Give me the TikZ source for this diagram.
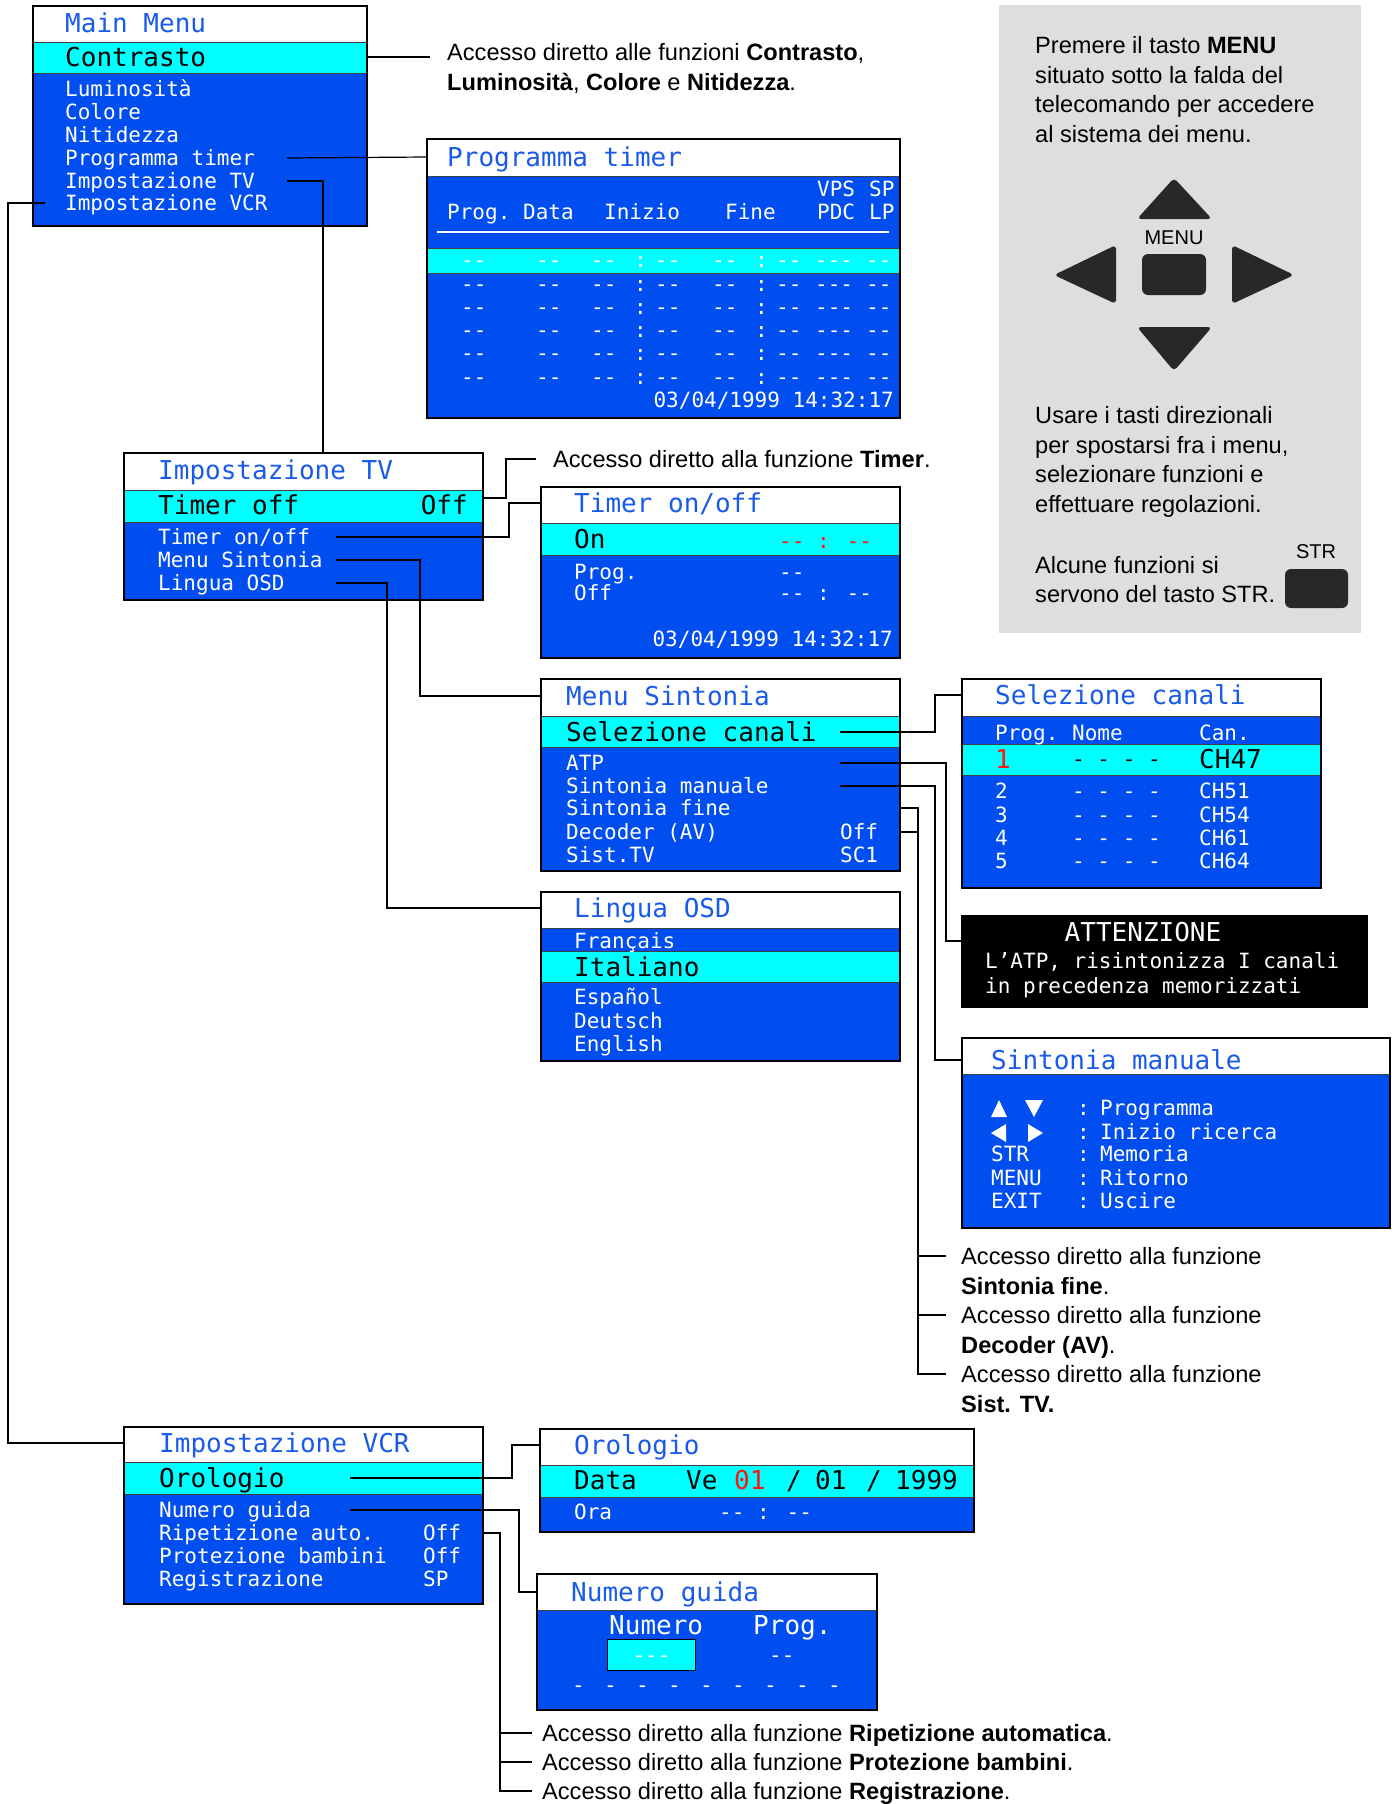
\documentclass[tikz,border=0pt]{standalone}
\usepackage{fontspec}
\setmainfont{Liberation Sans}
\newfontfamily\osdfont[Ligatures=TeXOff]{DejaVu Sans Mono}
\definecolor{osdblue}{RGB}{0,78,240}
\definecolor{osdcyan}{RGB}{0,255,255}
\definecolor{titleblue}{RGB}{25,90,235}
\definecolor{osdred}{RGB}{255,20,20}
\definecolor{panelgray}{RGB}{222,222,222}
\definecolor{keydark}{RGB}{40,40,40}

\tikzset{
  screen/.style={anchor=north west, fill=osdblue, inner sep=0pt, outer sep=0pt},
  frame/.style={line width=1.6pt},
  sep/.style={line width=1pt, black!75},
  link/.style={line width=1.2pt},
  osd/.style={font=\osdfont\fontsize{21}{21}\selectfont, text=white, anchor=west,
    inner sep=0pt, text height=15.3pt, text depth=0pt},
  osdbig/.style={osd, font=\osdfont\fontsize{26}{26}\selectfont, text height=19pt},
  osdsel/.style={osdbig, text=black},
  osdtitle/.style={osdbig, text=titleblue},
  note/.style={font=\fontsize{23.6}{28}\selectfont, anchor=west, inner sep=0pt,
    text height=16.9pt, text depth=0pt},
  keylabel/.style={font=\fontsize{20}{20}\selectfont, inner sep=0pt,
    text height=14.3pt, text depth=0pt},
  key/.style={fill=keydark, rounded corners=4pt}
}

% blue screen with white title bar
\newcommand\osdbox[6]{%
  \node[screen, minimum width=#4pt, minimum height=#5pt] (#1) at (#2,#3) {};
  \fill[white] (#1.north west) rectangle ++(#4,#6);
  \draw[sep] (#1.north west) ++(0,#6) -- ++(#4,0);
}
% highlighted line of a screen
\newcommand\osdband[3]{%
  \fill[osdcyan] (#1.west |- 0,#2) rectangle (#1.east |- 0,#3);
  \draw[sep] (#1.west |- 0,#2) -- (#1.east |- 0,#2) (#1.west |- 0,#3) -- (#1.east |- 0,#3);
}
\newcommand\osdframe[1]{\draw[frame] (#1.north west) rectangle (#1.south east);}

\begin{document}
\begin{tikzpicture}[x=1pt, y=-1pt]
  \useasboundingbox (0,0) rectangle (1396,1804);

  % Main Menu
  \osdbox{mm}{33}{6}{334}{220}{36}
  \osdband{mm}{42}{73}
  \node[osdtitle] (mm-t) at (65,23) {Main Menu};
  \node[osdsel] (mm-con) at (65,57) {Contrasto};
  \node[osd] (mm-lum) at (65,89) {Luminosità};
  \node[osd] (mm-col) at (65,112) {Colore};
  \node[osd] (mm-nit) at (65,135) {Nitidezza};
  \node[osd] (mm-prog) at (65,158) {Programma timer};
  \node[osd] (mm-tv) at (65,181) {Impostazione TV};
  \node[osd] (mm-vcr) at (65,203) {Impostazione VCR};
  \osdframe{mm}

  \node[note] (n-con1) at (447,52) {Accesso diretto alle funzioni \textbf{Contrasto},};
  \node[note] (n-con2) at (447,82) {\textbf{Luminosità}, \textbf{Colore} e \textbf{Nitidezza}.};

  % Programma timer
  \osdbox{pt}{427}{139}{473}{279}{37}
  \osdband{pt}{248}{273}
  \node[osdtitle] (pt-t) at (447,157) {Programma timer};
  \node[osd] (pt-vps) at (817,189) {VPS};
  \node[osd] (pt-sp) at (869,189) {SP};
  \foreach \x/\s in {447/Prog., 523/Data, 604/Inizio, 725/Fine, 817/PDC, 869/LP}
    \node[osd] (pt-h\x) at (\x,212) {\s};
  \draw[white, line width=2pt] (437,232) -- (889,232);
  \foreach \y in {260,284,307,330,353,377}
    \foreach \x/\s in {461/--,536/--,591/--,634/:,655/--,712/--,755/:,776/--,815/---,866/--}
      \node[osd] (pt-\x-\y) at (\x,\y) {\s};
  \node[osd, anchor=east] (pt-date) at (894,400) {03/04/1999 14:32:17};
  \osdframe{pt}

  % Impostazione TV
  \osdbox{tv}{124}{453}{359}{147}{37}
  \osdband{tv}{490}{522}
  \node[osdtitle] (tv-t) at (158,470) {Impostazione TV};
  \node[osdsel] (tv-toff) at (158,505) {Timer off};
  \node[osdsel, anchor=east] (tv-toffv) at (468,505) {Off};
  \node[osd] (tv-ton) at (158,537) {Timer on/off};
  \node[osd] (tv-ms) at (158,560) {Menu Sintonia};
  \node[osd] (tv-lo) at (158,583) {Lingua OSD};
  \osdframe{tv}

  \node[note] (n-timer) at (553,459) {Accesso diretto alla funzione \textbf{Timer}.};

  % Timer on/off
  \osdbox{tt}{541}{487}{359}{171}{36}
  \osdband{tt}{523}{555}
  \node[osdtitle] (tt-t) at (574,503) {Timer on/off};
  \node[osdsel] (tt-on) at (574,539) {On};
  \node[osd, text=osdred] (tt-onv) at (779,541) {-- : --};
  \node[osd] (tt-prog) at (574,572) {Prog.};
  \node[osd] (tt-progv) at (779,572) {--};
  \node[osd] (tt-off) at (574,593) {Off};
  \node[osd] (tt-offv) at (779,593) {-- : --};
  \node[osd, anchor=east] (tt-date) at (893,639) {03/04/1999 14:32:17};
  \osdframe{tt}

  % Menu Sintonia
  \osdbox{ms}{541}{679}{359}{192}{37}
  \osdband{ms}{716}{747}
  \node[osdtitle] (ms-t) at (566,696) {Menu Sintonia};
  \node[osdsel] (ms-sel) at (566,732) {Selezione canali};
  \node[osd] (ms-atp) at (566,763) {ATP};
  \node[osd] (ms-sm) at (566,786) {Sintonia manuale};
  \node[osd] (ms-sf) at (566,808) {Sintonia fine};
  \node[osd] (ms-dec) at (566,832) {Decoder (AV)};
  \node[osd] (ms-decv) at (840,832) {Off};
  \node[osd] (ms-sist) at (566,855) {Sist.TV};
  \node[osd] (ms-sistv) at (840,855) {SC1};
  \osdframe{ms}

  % Selezione canali
  \osdbox{sc}{962}{679}{359}{209}{37}
  \osdband{sc}{744}{775}
  \node[osdtitle] (sc-t) at (995,695) {Selezione canali};
  \node[osd] (sc-hp) at (995,733) {Prog.};
  \node[osd] (sc-hn) at (1072,733) {Nome};
  \node[osd] (sc-hc) at (1199,733) {Can.};
  \node[osdbig, text=osdred] (sc-p1) at (995,759) {1};
  \node[osd, text=black] (sc-n1) at (1072,759) {- - - -};
  \node[osdsel] (sc-c1) at (1199,759) {CH47};
  \foreach \p/\c/\y in {2/51/791, 3/54/815, 4/61/838, 5/64/861} {
    \node[osd] (sc-p\p) at (995,\y) {\p};
    \node[osd] (sc-n\p) at (1072,\y) {- - - -};
    \node[osd] (sc-c\p) at (1199,\y) {CH\c};
  }
  \osdframe{sc}

  % ATTENZIONE
  \node[anchor=north west, fill=black, inner sep=0pt, minimum width=407pt,
    minimum height=93pt] (att) at (961,915) {};
  \node[osdbig, anchor=center] (att-t) at (1143,932) {ATTENZIONE};
  \node[osd] (att-l1) at (985,961) {L’ATP, risintonizza I canali};
  \node[osd] (att-l2) at (985,986) {in precedenza memorizzati};

  % Lingua OSD
  \osdbox{lo}{541}{892}{359}{169}{36}
  \osdband{lo}{951}{982}
  \node[osdtitle] (lo-t) at (574,908) {Lingua OSD};
  \node[osd] (lo-fr) at (574,941) {Français};
  \node[osdsel] (lo-it) at (574,967) {Italiano};
  \node[osd] (lo-es) at (574,997) {Español};
  \node[osd] (lo-de) at (574,1021) {Deutsch};
  \node[osd] (lo-en) at (574,1044) {English};
  \osdframe{lo}

  % Sintonia manuale
  \osdbox{sm}{962}{1038}{428}{190}{36}
  \node[osdtitle] (sm-t) at (991,1060) {Sintonia manuale};
  \fill[white] (991,1117) -- (999,1100) -- (1007,1117) -- cycle;
  \fill[white] (1025,1100) -- (1043,1100) -- (1034,1117) -- cycle;
  \fill[white] (1006,1124) -- (991,1133) -- (1006,1142) -- cycle;
  \fill[white] (1028,1124) -- (1043,1133) -- (1028,1142) -- cycle;
  \node[osd] (sm-str) at (991,1154) {STR};
  \node[osd] (sm-menu) at (991,1178) {MENU};
  \node[osd] (sm-exit) at (991,1201) {EXIT};
  \foreach \y/\s [count=\i] in {1108/Programma, 1132/Inizio ricerca, 1154/Memoria,
      1178/Ritorno, 1201/Uscire} {
    \node[osd] (sm-c\i) at (1077,\y) {:};
    \node[osd] (sm-f\i) at (1100,\y) {\s};
  }
  \osdframe{sm}

  \node[note] (n-sf) at (961,1256) {Accesso diretto alla funzione};
  \node[note] (n-sf2) at (961,1286) {\textbf{Sintonia fine}.};
  \node[note] (n-dec) at (961,1315) {Accesso diretto alla funzione};
  \node[note] (n-dec2) at (961,1345) {\textbf{Decoder (AV)}.};
  \node[note] (n-sist) at (961,1374) {Accesso diretto alla funzione};
  \node[note] (n-sist2) at (961,1404) {\textbf{Sist. TV.}};

  % Impostazione VCR
  \osdbox{vcr}{124}{1427}{359}{177}{35}
  \osdband{vcr}{1462}{1494}
  \node[osdtitle] (vcr-t) at (159,1443) {Impostazione VCR};
  \node[osdsel] (vcr-or) at (159,1478) {Orologio};
  \node[osd] (vcr-ng) at (159,1510) {Numero guida};
  \node[osd] (vcr-rip) at (159,1533) {Ripetizione auto.};
  \node[osd] (vcr-ripv) at (423,1533) {Off};
  \node[osd] (vcr-prot) at (159,1556) {Protezione bambini};
  \node[osd] (vcr-protv) at (423,1556) {Off};
  \node[osd] (vcr-reg) at (159,1579) {Registrazione};
  \node[osd] (vcr-regv) at (423,1579) {SP};
  \osdframe{vcr}

  % Orologio
  \osdbox{or}{540}{1429}{434}{103}{36}
  \osdband{or}{1465}{1497}
  \node[osdtitle] (or-t) at (574,1445) {Orologio};
  \node[osdsel] (or-data) at (574,1480) {Data};
  \node[osdsel] (or-ve) at (686,1480) {Ve};
  \node[osdbig, text=osdred] (or-gg) at (734,1480) {01};
  \node[osdsel] (or-s1) at (786,1480) {/};
  \node[osdsel] (or-mm) at (815,1480) {01};
  \node[osdsel] (or-s2) at (866,1480) {/};
  \node[osdsel] (or-aa) at (895,1480) {1999};
  \node[osd] (or-ora) at (574,1512) {Ora};
  \node[osd] (or-orav) at (719,1512) {-- : --};
  \osdframe{or}

  % Numero guida
  \osdbox{ng}{537}{1574}{340}{136}{36}
  \node[osdtitle] (ng-t) at (571,1592) {Numero guida};
  \node[osdbig] (ng-num) at (609,1625) {Numero};
  \node[osdbig] (ng-prog) at (753,1625) {Prog.};
  \node[fill=osdcyan, draw=black, line width=1pt, anchor=north west, inner sep=0pt,
    minimum width=88pt, minimum height=31pt] (ng-sel) at (607,1639) {};
  \node[osd, anchor=center] (ng-selv) at (ng-sel) {---};
  \node[osd] (ng-progv) at (769,1655) {--};
  \foreach \i in {0,...,8}
    \node[osd] (ng-d\i) at (572+32*\i,1685) {-};
  \osdframe{ng}

  \node[note] (n-rip) at (542,1733) {Accesso diretto alla funzione \textbf{Ripetizione automatica}.};
  \node[note] (n-prot) at (542,1762) {Accesso diretto alla funzione \textbf{Protezione bambini}.};
  \node[note] (n-reg) at (542,1791) {Accesso diretto alla funzione \textbf{Registrazione}.};

  % Telecomando
  \fill[panelgray] (999,5) rectangle (1361,633);
  \foreach \t [count=\i from 0] in {Premere il tasto \textbf{MENU}, situato sotto la falda del,
      telecomando per accedere, al sistema dei menu.}
    \node[note] (g-a\i) at (1035,45+29.7*\i) {\t};
  \foreach \t [count=\i from 0] in {Usare i tasti direzionali, {per spostarsi fra i menu,},
      selezionare funzioni e, effettuare regolazioni.}
    \node[note] (g-b\i) at (1035,415+29.7*\i) {\t};
  \node[note] (g-c0) at (1035,565) {Alcune funzioni si};
  \node[note] (g-c1) at (1035,594) {servono del tasto STR.};
  \fill[key] (1137,219) -- (1174,178) -- (1212,219) -- cycle;
  \fill[key] (1137,327) -- (1212,327) -- (1174,371) -- cycle;
  \fill[key] (1116,245) -- (1054,275) -- (1116,304) -- cycle;
  \fill[key] (1232,245) -- (1294,275) -- (1232,304) -- cycle;
  \node[keylabel] (k-menul) at (1174,237) {MENU};
  \fill[key, rounded corners=6pt] (1142,254) rectangle (1206,295);
  \node[keylabel] (k-strl) at (1316,551) {STR};
  \fill[key, rounded corners=6pt] (1285,569) rectangle (1348,608);

  % Collegamenti
  \draw[link] (mm.east |- mm-con) -- (mm-con -| 430,0);
  \draw[link] (mm-prog -| 287,0) -- (pt.west |- pt-t);
  \draw[link] (mm-tv -| 287,0) -| (tv.north -| 323,0);
  \draw[link] (mm-vcr -| 45,0) -- (mm-vcr -| 8,0) |- (vcr.west |- vcr-t);

  \draw[link] (tv.east |- 0,498) -- (506,498) |- (n-timer -| 536,0);
  \draw[link] (tv-ton -| 336,0) -- (tv-ton -| 509,0) |- (tt.west |- tt-t);
  \draw[link] (tv-ms -| 336,0) -- (tv-ms -| 420,0) |- (ms.west |- ms-t);
  \draw[link] (tv-lo -| 336,0) -- (tv-lo -| 387,0) |- (lo.west |- lo-t);

  \draw[link] (ms-sel -| 840,0) -- (ms-sel -| 935,0) |- (sc.west |- sc-t);
  \draw[link] (ms-atp -| 840,0) -- (ms-atp -| 946,0) |- (att.west |- 0,941);
  \draw[link] (ms-sm -| 840,0) -- (ms-sm -| 935,0) |- (sm.west |- sm-t);
  \draw[link] (ms.east |- ms-sf) -- (ms-sf -| 918,0) |- (n-sist -| 946,0);
  \draw[link] (ms.east |- ms-dec) -- (ms-dec -| 918,0);
  \draw[link] (n-sf -| 918,0) -- (n-sf -| 946,0);
  \draw[link] (n-dec -| 918,0) -- (n-dec -| 946,0);

  \draw[link] (vcr-or -| 350,0) -- (vcr-or -| 512,0) |- (or.west |- or-t);
  \draw[link] (vcr-ng -| 350,0) -- (vcr-ng -| 519,0) |- (ng.west |- ng-t);
  \draw[link] (vcr.east |- vcr-rip) -- (vcr-rip -| 500,0) |- (n-reg -| 532,0);
  \draw[link] (n-rip -| 500,0) -- (n-rip -| 532,0);
  \draw[link] (n-prot -| 500,0) -- (n-prot -| 532,0);
\end{tikzpicture}
\end{document}
